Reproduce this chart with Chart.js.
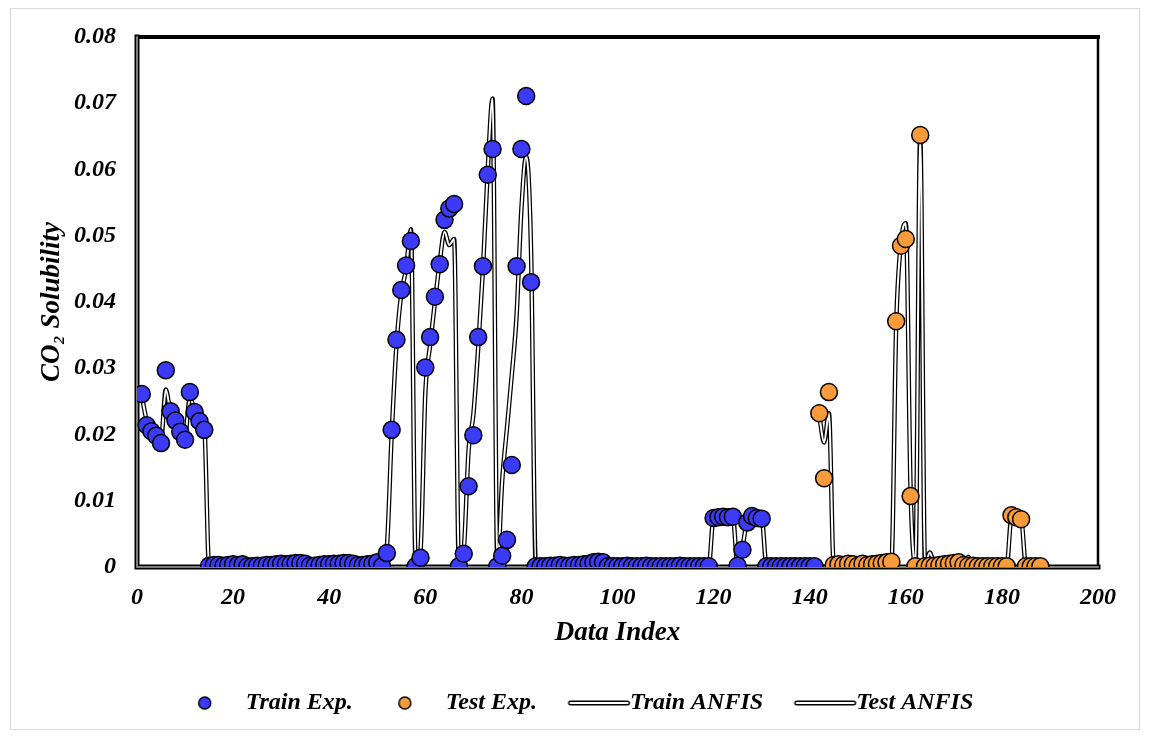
<!DOCTYPE html>
<html>
<head>
<meta charset="utf-8">
<script src="https://cdn.jsdelivr.net/npm/chart.js@4/dist/chart.umd.min.js"></script>
<style>
  html, body { margin: 0; padding: 0; background: #fff; }
  #wrap { width: 1149px; height: 736px; position: relative; }
</style>
</head>
<body>
<div id="wrap"><canvas id="chart"></canvas></div>
<script>
// sample index where each set starts
const trainStart = 1;
const testStart = 142;

const trainExp = [
  0.0261, 0.0214, 0.0205, 0.0198, 0.0187, 0.0297, 0.0235, 0.0221, 0.0204, 0.0192,
  0.0264, 0.0234, 0.0220, 0.0207, 0.0002, 0.0003, 0.0003, 0.0002, 0.0003, 0.0004,
  0.0003, 0.0004, 0.0001, 0.0001, 0.0002, 0.0002, 0.0003, 0.0003, 0.0004, 0.0005,
  0.0004, 0.0005, 0.0006, 0.0006, 0.0005, 0.0002, 0.0002, 0.0003, 0.0004, 0.0004,
  0.0005, 0.0005, 0.0006, 0.0006, 0.0005, 0.0003, 0.0003, 0.0004, 0.0005, 0.0007,
  0.0001, 0.0021, 0.0207, 0.0343, 0.0418, 0.0455, 0.0492, 0.0001, 0.0014, 0.0301,
  0.0347, 0.0408, 0.0457, 0.0524, 0.0541, 0.0548, 0.0001, 0.0020, 0.0122, 0.0199,
  0.0347, 0.0454, 0.0592, 0.0631, 0.0001, 0.0017, 0.0041, 0.0154, 0.0454, 0.0631,
  0.0711, 0.0430, 0.0001, 0.0001, 0.0001, 0.0002, 0.0002, 0.0003, 0.0002, 0.0002,
  0.0003, 0.0003, 0.0004, 0.0005, 0.0007, 0.0008, 0.0007, 0.0001, 0.0001, 0.0001,
  0.0001, 0.0002, 0.0001, 0.0001, 0.0001, 0.0002, 0.0001, 0.0001, 0.0001, 0.0001,
  0.0001, 0.0001, 0.0002, 0.0001, 0.0001, 0.0001, 0.0001, 0.0001, 0.0001, 0.0074,
  0.0075, 0.0076, 0.0075, 0.0076, 0.0002, 0.0026, 0.0067, 0.0077, 0.0074, 0.0073,
  0.0001, 0.0001, 0.0001, 0.0001, 0.0001, 0.0001, 0.0001, 0.0001, 0.0001, 0.0001,
  0.0001
];

const trainAnfis = [
  0.0258, 0.0222, 0.0212, 0.0203, 0.0193, 0.0268, 0.0232, 0.0222, 0.0210, 0.0199,
  0.0255, 0.0238, 0.0226, 0.0213, 0.0003, 0.0003, 0.0003, 0.0003, 0.0003, 0.0004,
  0.0003, 0.0003, 0.0002, 0.0002, 0.0002, 0.0003, 0.0003, 0.0003, 0.0004, 0.0004,
  0.0004, 0.0005, 0.0005, 0.0005, 0.0004, 0.0003, 0.0003, 0.0003, 0.0004, 0.0004,
  0.0004, 0.0005, 0.0005, 0.0005, 0.0004, 0.0004, 0.0004, 0.0004, 0.0005, 0.0006,
  0.0003, 0.0030, 0.0200, 0.0335, 0.0412, 0.0450, 0.0510, 0.0003, 0.0025, 0.0262,
  0.0335, 0.0400, 0.0460, 0.0506, 0.0486, 0.0495, 0.0003, 0.0025, 0.0175, 0.0230,
  0.0330, 0.0450, 0.0600, 0.0707, 0.0003, 0.0130, 0.0210, 0.0290, 0.0380, 0.0540,
  0.0620, 0.0480, 0.0003, 0.0002, 0.0002, 0.0003, 0.0012, 0.0003, 0.0002, 0.0002,
  0.0003, 0.0003, 0.0004, 0.0005, 0.0006, 0.0006, 0.0006, 0.0002, 0.0001, 0.0001,
  0.0001, 0.0001, 0.0001, 0.0001, 0.0001, 0.0001, 0.0001, 0.0001, 0.0001, 0.0001,
  0.0001, 0.0001, 0.0001, 0.0001, 0.0001, 0.0001, 0.0001, 0.0001, 0.0002, 0.0076,
  0.0077, 0.0077, 0.0076, 0.0076, 0.0003, 0.0030, 0.0070, 0.0077, 0.0075, 0.0075,
  0.0002, 0.0001, 0.0001, 0.0001, 0.0001, 0.0001, 0.0001, 0.0001, 0.0001, 0.0001,
  0.0001
];

const testExp = [
  0.0232, 0.0134, 0.0264, 0.0003, 0.0004, 0.0003, 0.0005, 0.0004, 0.0002, 0.0005,
  0.0003, 0.0004, 0.0005, 0.0006, 0.0007, 0.0008, 0.0371, 0.0485, 0.0495, 0.0107,
  0.0001, 0.0652, 0.0001, 0.0002, 0.0002, 0.0003, 0.0004, 0.0005, 0.0006, 0.0007,
  0.0003, 0.0002, 0.0002, 0.0001, 0.0001, 0.0001, 0.0001, 0.0001, 0.0001, 0.0001,
  0.0078, 0.0075, 0.0072, 0.0001, 0.0001, 0.0001, 0.0001
];

const testAnfis = [
  0.0228, 0.0188, 0.0232, 0.0003, 0.0004, 0.0004, 0.0004, 0.0004, 0.0003, 0.0004,
  0.0004, 0.0004, 0.0005, 0.0005, 0.0006, 0.0006, 0.0365, 0.0490, 0.0519, 0.0115,
  0.0003, 0.0650, 0.0003, 0.0022, 0.0003, 0.0003, 0.0004, 0.0005, 0.0005, 0.0006,
  0.0004, 0.0015, 0.0003, 0.0002, 0.0002, 0.0002, 0.0002, 0.0002, 0.0002, 0.0002,
  0.0076, 0.0075, 0.0073, 0.0002, 0.0001, 0.0001, 0.0001
];

const yTickLabels = ['0', '0.01', '0.02', '0.03', '0.04', '0.05', '0.06', '0.07', '0.08'];

const toPoints = (values, start) => values.map((v, i) => ({ x: start + i, y: v }));

const serif = '"Liberation Serif", "Times New Roman", serif';
const tickFont = { family: serif, size: 24, style: 'italic', weight: 'bold' };
const titleFont = { family: serif, size: 27, style: 'italic', weight: 'bold' };
const legendFont = { family: serif, size: 24, style: 'italic', weight: 'bold' };

const BOX_W = 71;
const LEGEND_SHIFT = 19;

// legend icons drawn on small canvases
const circleIcon = (color) => {
    const c = document.createElement('canvas');
    c.width = 88; c.height = 20;
    const g = c.getContext('2d');
    g.beginPath();
    g.arc(44 + 6.5, 10, 6, 0, Math.PI * 2);
    g.fillStyle = color;
    g.fill();
    g.lineWidth = 1.5;
    g.strokeStyle = '#000';
    g.stroke();
    return c;
}

const doubleLineIcon = () => {
    const c = document.createElement('canvas');
    c.width = 100; c.height = 10;
    const g = c.getContext('2d');
    g.lineCap = 'round';
    g.strokeStyle = '#000';
    g.lineWidth = 5;
    g.beginPath(); g.moveTo(38, 5); g.lineTo(95, 5); g.stroke();
    g.strokeStyle = '#fff';
    g.lineWidth = 2;
    g.beginPath(); g.moveTo(38, 5); g.lineTo(95, 5); g.stroke();
    return c;
}

const icons = {
    'Train Exp.': circleIcon('#3b3bf7'),
    'Test Exp.': circleIcon('#f99b3a'),
    'Train ANFIS': doubleLineIcon(),
    'Test ANFIS': doubleLineIcon()
};

const framePlugin = {
    id: 'frame',
    afterLayout(chart) {
        // legend sits a bit right of the plot centre in the original
        if (chart.legend) {
            chart.legend.left += LEGEND_SHIFT;
            chart.legend.right += LEGEND_SHIFT;
        }
    },
    beforeDraw(chart) {
        const ctx = chart.ctx;
        ctx.save();
        ctx.fillStyle = '#fff';
        ctx.fillRect(0, 0, chart.width, chart.height);
        ctx.strokeStyle = '#d9d9d9';
        ctx.lineWidth = 1;
        ctx.strokeRect(10.5, 8.5, 1129, 721);
        ctx.restore();
    },
    beforeDatasetsDraw(chart) {
        const { ctx, chartArea: a } = chart;
        ctx.save();
        ctx.lineCap = 'square';
        ctx.strokeStyle = '#000';
        ctx.lineWidth = 4;
        ctx.beginPath();
        ctx.moveTo(a.left, a.top);
        ctx.lineTo(a.right, a.top);
        ctx.stroke();
        ctx.lineWidth = 2.5;
        ctx.beginPath();
        ctx.moveTo(a.right, a.top);
        ctx.lineTo(a.right, a.bottom);
        ctx.stroke();
        // left and bottom axis lines are drawn as double lines
        const axisPath = () => {
            ctx.beginPath();
            ctx.moveTo(a.left, a.top);
            ctx.lineTo(a.left, a.bottom);
            ctx.lineTo(a.right, a.bottom);
        };
        ctx.lineWidth = 5;
        axisPath();
        ctx.stroke();
        ctx.strokeStyle = '#a6a6a6';
        ctx.lineWidth = 1.5;
        axisPath();
        ctx.stroke();
        ctx.restore();
    }
};

const pointSet = (label, values, start, color, order) => ({
    label: label,
    data: toPoints(values, start),
    showLine: false,
    pointRadius: 8.5,
    pointHoverRadius: 8.5,
    pointBackgroundColor: color,
    pointBorderColor: '#000',
    pointBorderWidth: 1.5,
    backgroundColor: color,
    borderColor: '#000',
    order: order
});

const lineSet = (label, values, start, color, width, order, hidden) => ({
    label: label,
    data: toPoints(values, start),
    borderColor: color,
    backgroundColor: color,
    borderWidth: width,
    pointRadius: 0,
    fill: false,
    cubicInterpolationMode: 'monotone',
    order: order,
    legendHidden: hidden
});

const ctx = document.getElementById('chart');

new Chart(ctx, {
    type: 'line',
    data: {
        datasets: [
            pointSet('Train Exp.', trainExp, trainStart, '#3b3bf7', 0),
            pointSet('Test Exp.', testExp, testStart, '#f99b3a', 1),
            lineSet('Train ANFIS inner', trainAnfis, trainStart, '#fff', 2, 2, true),
            lineSet('Test ANFIS inner', testAnfis, testStart, '#fff', 2, 3, true),
            lineSet('Train ANFIS', trainAnfis, trainStart, '#000', 4.5, 4, false),
            lineSet('Test ANFIS', testAnfis, testStart, '#000', 4.5, 5, false)
        ]
    },
    options: {
        responsive: true,
        maintainAspectRatio: false,
        animation: false,
        layout: {
            padding: { left: 0, top: 37, right: 51, bottom: 11 }
        },
        plugins: {
            tooltip: { enabled: false },
            legend: {
                position: 'bottom',
                labels: {
                    usePointStyle: true,
                    pointStyleWidth: BOX_W,
                    padding: 10,
                    color: '#000',
                    font: legendFont,
                    generateLabels: (chart) => {
                        const items = Chart.defaults.plugins.legend.labels.generateLabels(chart);
                        return items
                            .filter(it => !chart.data.datasets[it.datasetIndex].legendHidden)
                            .map(it => {
                                it.pointStyle = icons[it.text];
                                return it;
                            });
                    }
                }
            }
        },
        scales: {
            x: {
                type: 'linear',
                min: 0,
                max: 200,
                grid: { display: false },
                border: { display: false },
                ticks: { stepSize: 20, padding: 8, color: '#000', font: tickFont },
                title: {
                    display: true,
                    text: 'Data Index',
                    color: '#000',
                    font: titleFont,
                    padding: { top: 0, bottom: 32 }
                },
                afterFit: (scale) => { scale.height = 114; }
            },
            y: {
                min: 0,
                max: 0.08,
                grid: { display: false },
                border: { display: false },
                ticks: {
                    stepSize: 0.01,
                    padding: 13,
                    color: '#000',
                    font: tickFont,
                    callback: (value, index) => yTickLabels[index]
                },
                title: {
                    display: true,
                    text: 'CO₂ Solubility',
                    color: '#000',
                    font: titleFont,
                    padding: { top: 36, bottom: 0 }
                },
                afterFit: (scale) => { scale.width = 137; }
            }
        }
    },
    plugins: [framePlugin]
});
</script>
</body>
</html>
